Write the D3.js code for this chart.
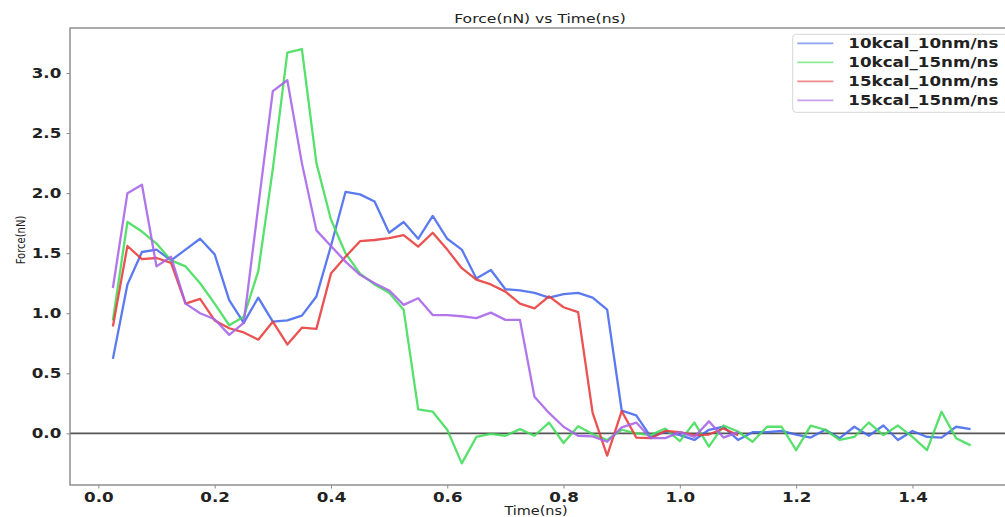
<!DOCTYPE html>
<html><head><meta charset="utf-8">
<script src="https://cdn.jsdelivr.net/npm/d3@7"></script>
<style>body{margin:0;background:#fff;} svg{display:block;}</style>
</head><body><svg id="chart" width="1005" height="517"></svg>
<script>
const timeNs = [0.025,0.05,0.075,0.1,0.125,0.15,0.175,0.2,0.225,0.25,0.275,0.3,0.325,0.35,0.375,0.4,0.425,0.45,0.475,0.5,
  0.525,0.55,0.575,0.6,0.625,0.65,0.675,0.7,0.725,0.75,0.775,0.8,0.825,0.85,0.875,0.9,0.925,0.95,0.975,1.0,
  1.025,1.05,1.075,1.1,1.125,1.15,1.175,1.2,1.225,1.25,1.275,1.3,1.325,1.35,1.375,1.4,1.425,1.45,1.475,1.5];

const force10kcal10nm = [0.62,1.24,1.51,1.53,1.44,1.53,1.62,1.49,1.11,0.92,1.13,0.93,0.94,0.98,1.14,1.56,2.01,1.99,1.93,1.67,
  1.76,1.62,1.81,1.62,1.53,1.29,1.36,1.20,1.19,1.17,1.13,1.16,1.17,1.13,1.03,0.19,0.15,-0.03,0.015,-0.015,
  -0.055,0.03,0.055,-0.055,0.01,0.01,0.02,-0.01,-0.035,0.03,-0.04,0.055,-0.02,0.065,-0.055,0.02,-0.03,-0.035,0.055,0.035];

const force10kcal15nm = [0.94,1.76,1.68,1.58,1.44,1.39,1.25,1.08,0.90,0.97,1.35,2.20,3.17,3.20,2.25,1.78,1.50,1.33,1.24,1.17,
  1.03,0.20,0.18,0.03,-0.25,-0.03,-0.005,-0.02,0.035,-0.02,0.09,-0.08,0.06,-0.005,-0.055,0.03,0.0,-0.015,0.04,-0.065,
  0.09,-0.11,0.065,0.015,-0.07,0.055,0.055,-0.14,0.065,0.03,-0.055,-0.03,0.09,-0.015,0.065,-0.03,-0.14,0.18,-0.04,-0.10];

const force15kcal10nm = [0.89,1.56,1.45,1.46,1.42,1.08,1.12,0.94,0.875,0.84,0.78,0.93,0.74,0.88,0.87,1.33,1.47,1.60,1.61,1.625,
  1.65,1.555,1.67,1.53,1.375,1.28,1.24,1.18,1.08,1.04,1.14,1.05,1.01,0.17,-0.185,0.185,-0.035,-0.04,0.02,0.01,
  -0.015,-0.01,0.04,-0.015];

const force15kcal15nm = [1.21,2.00,2.07,1.39,1.47,1.08,1.00,0.95,0.82,0.92,1.89,2.85,2.94,2.25,1.69,1.56,1.43,1.32,1.25,1.19,
  1.07,1.125,0.985,0.985,0.975,0.96,1.005,0.945,0.945,0.305,0.17,0.055,-0.02,-0.025,-0.07,0.05,0.09,-0.04,-0.04,0.01,
  -0.03,0.10,-0.035,0.01];

const seriesNames = ["10kcal_10nm/ns","10kcal_15nm/ns","15kcal_10nm/ns","15kcal_15nm/ns"];
const seriesValues = [force10kcal10nm, force10kcal15nm, force15kcal10nm, force15kcal15nm];
const seriesColors = ["#4468ee","#40dc58","#e83a3a","#a663e8"];
const xTickValues = [0.0,0.2,0.4,0.6,0.8,1.0,1.2,1.4];
const yTickValues = [0.0,0.5,1.0,1.5,2.0,2.5,3.0];
const titleText = "Force(nN) vs Time(ns)";
const xLabelText = "Time(ns)";
const yLabelText = "Force(nN)";

const SX = 1.22; // horizontal stretch of the reference image
const FONT = "'DejaVu Sans', sans-serif";
const svg = d3.select("#chart");
const plot = {left:70, right:1013.5, top:28, bottom:485};

const x = d3.scaleLinear().domain([-0.04875, 1.57375]).range([plot.left, plot.right]);
const y = d3.scaleLinear().domain([-0.43, 3.375]).range([plot.bottom, plot.top]);

svg.append("rect").attr("width",1005).attr("height",517).attr("fill","#fff");

svg.append("defs").append("clipPath").attr("id","clip")
  .append("rect").attr("x",plot.left).attr("y",plot.top)
  .attr("width",plot.right-plot.left).attr("height",plot.bottom-plot.top);

// zero line
svg.append("line")
  .attr("x1",plot.left).attr("x2",plot.right)
  .attr("y1",y(0)).attr("y2",y(0))
  .attr("stroke","#555").attr("stroke-width",1.6);

// series lines
const line = d3.line().x(d=>x(d[0])).y(d=>y(d[1]));
const gLines = svg.append("g").attr("clip-path","url(#clip)");
seriesValues.forEach((vals,i)=>{
  const pts = vals.map((v,j)=>[timeNs[j], v]);
  gLines.append("path").datum(pts)
    .attr("d", line)
    .attr("fill","none")
    .attr("stroke", seriesColors[i])
    .attr("stroke-width", 2.3)
    .attr("stroke-opacity", 0.88)
    .attr("stroke-linejoin","round");
});

// axes
const spine = "#888";
const xAxis = svg.append("g").attr("transform",`translate(0,${plot.bottom})`)
  .call(d3.axisBottom(x).tickValues(xTickValues).tickFormat(d3.format(".1f")).tickSize(3.5).tickPadding(3.5));
const yAxis = svg.append("g").attr("transform",`translate(${plot.left},0)`)
  .call(d3.axisLeft(y).tickValues(yTickValues).tickFormat(d3.format(".1f")).tickSize(3.5).tickPadding(5));
[xAxis,yAxis].forEach(a=>{
  a.select(".domain").remove();
  a.selectAll(".tick line").attr("stroke",spine).attr("stroke-width",1);
  a.selectAll(".tick text")
    .attr("fill","#222")
    .attr("font-family",FONT).attr("font-weight","bold").attr("font-size",13.7);
});
xAxis.selectAll(".tick text").attr("transform",`scale(${SX},1)`);
yAxis.selectAll(".tick text").attr("x", -8.7/SX).attr("transform",`scale(${SX},1)`);

// spines
svg.append("rect")
  .attr("x",plot.left).attr("y",plot.top)
  .attr("width",plot.right-plot.left).attr("height",plot.bottom-plot.top)
  .attr("fill","none").attr("stroke",spine).attr("stroke-width",1.4);

function sText(px, py, str, size, weight, anchor, extra){
  return svg.append("text")
    .attr("transform",`translate(${px},${py}) scale(${SX},1)` + (extra||""))
    .attr("font-family",FONT).attr("font-size",size).attr("font-weight",weight)
    .attr("text-anchor",anchor).attr("fill","#222").text(str);
}

sText(540, 23.4, titleText, 12.8, "normal", "middle");
sText(536, 515, xLabelText, 11.8, "normal", "middle");
sText(24.5, 240, yLabelText, 10, "normal", "middle", " rotate(-90)");

// legend
const legend = svg.append("g");
legend.append("rect").attr("x",792.7).attr("y",34.3).attr("width",240).attr("height",78)
  .attr("rx",3).attr("fill","#fff").attr("fill-opacity",0.85).attr("stroke","#d6d6d6").attr("stroke-width",1);
const legendY = d3.scaleLinear().domain([0,1]).range([43.3, 62.3]);
seriesNames.forEach((name,i)=>{
  const ly = legendY(i);
  legend.append("line").attr("x1",797.3).attr("x2",833.3).attr("y1",ly).attr("y2",ly)
    .attr("stroke",seriesColors[i]).attr("stroke-width",1.8).attr("stroke-opacity",0.6);
  sText(848.3, ly+5, name, 13.7, "bold", "start");
});
</script></body></html>
